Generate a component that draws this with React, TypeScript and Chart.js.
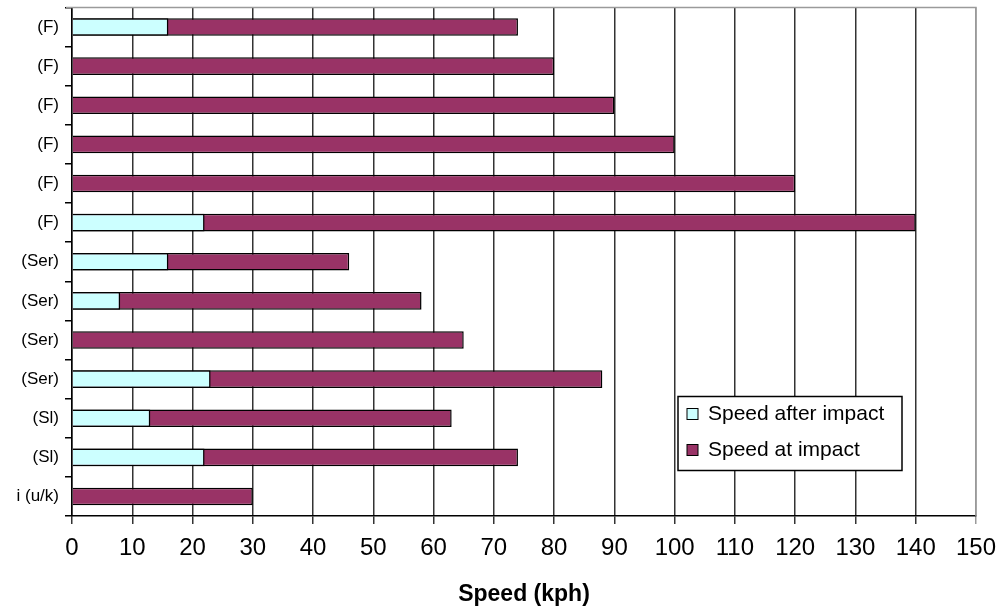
import React, { useEffect, useRef } from "react";
import { Chart, registerables } from "chart.js";

Chart.register(...registerables);

const categories: string[] = [
  "(F)", "(F)", "(F)", "(F)", "(F)", "(F)",
  "(Ser)", "(Ser)", "(Ser)", "(Ser)",
  "(Sl)", "(Sl)", "i (u/k)",
];
const speedAfterImpact: (number | null)[] = [16, null, null, null, null, 22, 16, 8, null, 23, 13, 22, null];
const speedAtImpact: number[] = [74, 80, 90, 100, 120, 140, 46, 58, 65, 88, 63, 74, 30];
const seriesNames: string[] = ["Speed after impact", "Speed at impact"];
const xTitle = "Speed (kph)";

const FONT = "'Liberation Sans', Arial, Helvetica, sans-serif";

const frameAndLegend = {
  id: "frameAndLegend",
  afterDraw(chart: any) {
    const { ctx, chartArea } = chart;
    ctx.save();
    // grey plot border top & right
    ctx.strokeStyle = "#9a9a9a";
    ctx.lineWidth = 1.5;
    ctx.beginPath();
    ctx.moveTo(chartArea.left - 6, chartArea.top);
    ctx.lineTo(chartArea.right, chartArea.top);
    ctx.lineTo(chartArea.right, chartArea.bottom);
    ctx.stroke();

    // legend box
    const bx = chartArea.left + 606;
    const by = chartArea.top + 389;
    const bw = 224;
    const bh = 74;
    ctx.fillStyle = "#fff";
    ctx.fillRect(bx, by, bw, bh);
    ctx.strokeStyle = "#000";
    ctx.lineWidth = 1.5;
    ctx.strokeRect(bx, by, bw, bh);
    ctx.font = `21px ${FONT}`;
    ctx.textBaseline = "middle";
    ctx.textAlign = "left";
    chart.data.datasets.forEach((ds: any, i: number) => {
      const cy = by + 18 + i * 36;
      ctx.fillStyle = ds.backgroundColor;
      ctx.fillRect(bx + 9, cy - 6, 11, 11);
      ctx.strokeStyle = "#000";
      ctx.lineWidth = 1;
      ctx.strokeRect(bx + 9, cy - 6, 11, 11);
      ctx.fillStyle = "#000";
      ctx.fillText(ds.label, bx + 30, cy);
    });
    ctx.restore();
  },
};

export default function App() {
  const ref = useRef<HTMLCanvasElement>(null);
  useEffect(() => {
    if (!ref.current) return;
    const chart = new Chart(ref.current, {
      type: "bar",
      data: {
        labels: categories,
        datasets: [
          {
            label: seriesNames[0],
            data: speedAfterImpact,
            backgroundColor: "#ccffff",
            borderColor: "#000",
            borderWidth: 1.5,
            grouped: false,
            order: 0,
            barPercentage: 0.9,
            categoryPercentage: 0.5,
          } as any,
          {
            label: seriesNames[1],
            data: speedAtImpact,
            backgroundColor: "#993366",
            borderColor: "#000",
            borderWidth: 1.5,
            grouped: false,
            order: 1,
            barPercentage: 0.9,
            categoryPercentage: 0.5,
          } as any,
        ],
      },
      options: {
        indexAxis: "y",
        responsive: false,
        animation: false,
        devicePixelRatio: 1,
        layout: { padding: { top: 7.5, right: 28, left: 0, bottom: 0 } },
        plugins: {
          legend: { display: false },
          tooltip: { enabled: false },
        },
        scales: {
          x: {
            min: 0,
            max: 150,
            ticks: {
              stepSize: 10,
              color: "#000",
              font: { family: FONT, size: 24 },
              padding: 10,
              maxRotation: 0,
            },
            grid: {
              color: (c: any) => (c.tick && c.tick.value === 150 ? "#9a9a9a" : "#333"),
              lineWidth: 1.5,
              tickLength: 8,
              drawTicks: true,
            },
            border: { color: "#000", width: 1.5 },
            title: {
              display: true,
              text: xTitle,
              color: "#000",
              font: { family: FONT, size: 23, weight: "bold" },
              padding: { top: 0, bottom: 2 },
            },
            afterFit: (s: any) => {
              s.height = 94;
            },
          },
          y: {
            offset: true,
            ticks: {
              color: "#000",
              font: { family: FONT, size: 17 },
              padding: 6,
            },
            grid: {
              drawOnChartArea: false,
              drawTicks: true,
              tickLength: 7,
              color: "#000",
              lineWidth: 1.5,
              offset: true,
            },
            border: { color: "#000", width: 1.5 },
            afterFit: (s: any) => {
              s.width = 72;
              s.paddingTop = 0;
              s.paddingBottom = 0;
            },
          },
        },
      },
      plugins: [frameAndLegend],
    });
    return () => chart.destroy();
  }, []);
  return (
    <div style={{ position: "fixed", left: 0, top: 0, width: 1006, height: 610, background: "#fff" }}>
      <canvas ref={ref} width={1006} height={610} />
    </div>
  );
}
